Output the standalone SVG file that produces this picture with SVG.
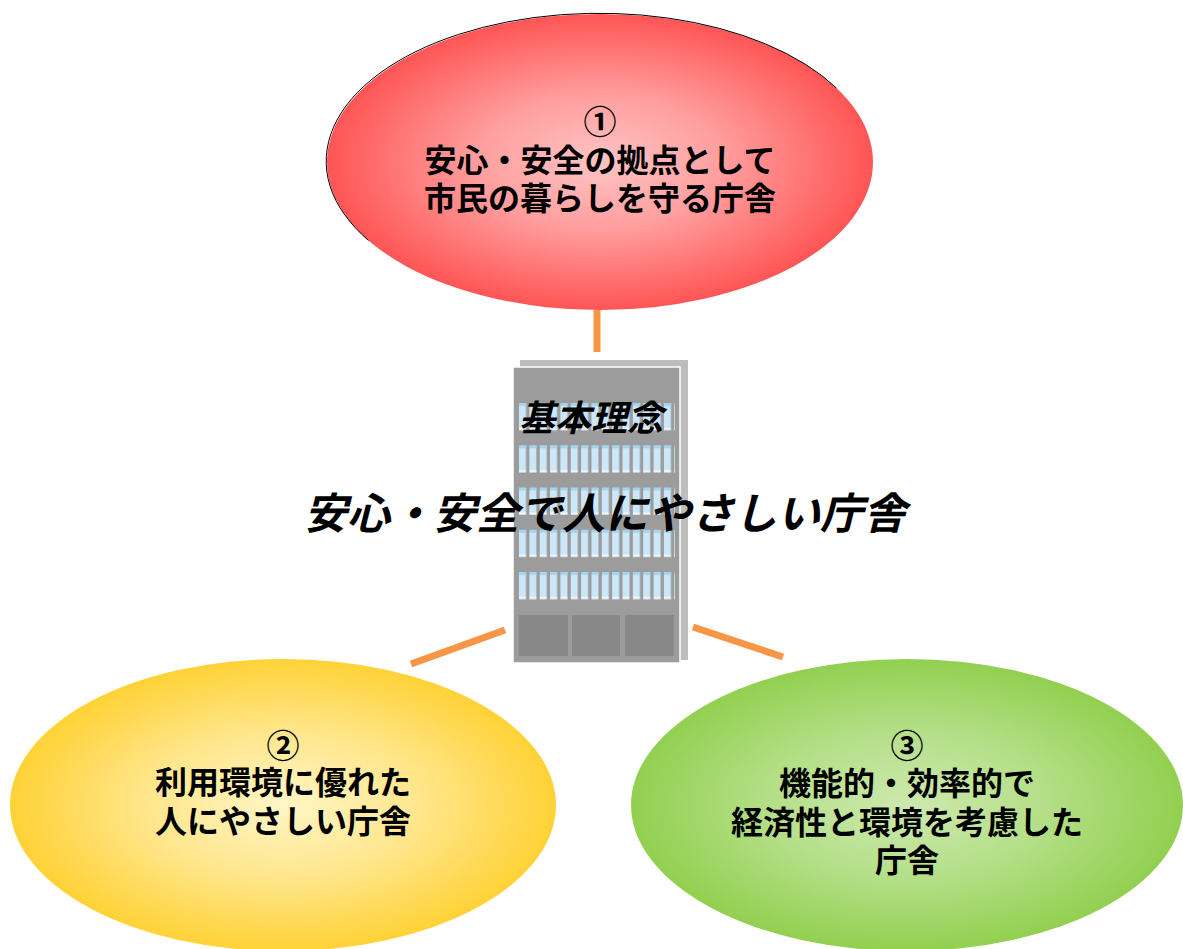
<svg xmlns="http://www.w3.org/2000/svg" width="1183" height="949" viewBox="0 0 1183 949">
  <style>
    .lbl { font-family: "Noto Sans CJK JP", "Noto Sans", sans-serif; font-weight: 700; font-size: 32px; fill: #000; text-anchor: middle; }
    .num { font-size: 33px; }
    .con { stroke: #F79646; stroke-width: 7; fill: none; }
    .head { font-family: "Noto Sans CJK JP", "Noto Sans", sans-serif; font-style: italic; fill: #000; }
  </style>
  <defs>
    <radialGradient id="gRed" cx="0.5" cy="0.5" r="0.5">
      <stop offset="0" stop-color="#FFC4C4"/>
      <stop offset="0.45" stop-color="#FF9E9E"/>
      <stop offset="1" stop-color="#FF5555"/>
    </radialGradient>
    <radialGradient id="gYel" cx="0.5" cy="0.5" r="0.5">
      <stop offset="0" stop-color="#FFF6C6"/>
      <stop offset="0.5" stop-color="#FFE68C"/>
      <stop offset="1" stop-color="#FFD236"/>
    </radialGradient>
    <radialGradient id="gGrn" cx="0.5" cy="0.5" r="0.5">
      <stop offset="0" stop-color="#CDE9AE"/>
      <stop offset="0.5" stop-color="#B4DF88"/>
      <stop offset="1" stop-color="#92D050"/>
    </radialGradient>
    <!-- one window strip per cell, repeated across each floor -->
    <pattern id="win" patternUnits="userSpaceOnUse" x="519" y="403" width="10.35" height="42.25">
      <rect x="0" y="0" width="7" height="27" fill="#CBE7F8"/>
      <rect x="0" y="0" width="7" height="3" fill="#A6D3EE"/>
      <rect x="0" y="25" width="7" height="2" fill="#F4FAFF"/>
    </pattern>
  </defs>

  <g id="connectors">
    <line class="con" x1="597" y1="310" x2="597" y2="352"/>
    <line class="con" x1="411" y1="664" x2="505" y2="630"/>
    <line class="con" x1="693" y1="627" x2="783" y2="657"/>
  </g>

  <g id="node1">
    <ellipse cx="600" cy="162" rx="273" ry="148" fill="url(#gRed)"/>
    <path d="M368.5,240.4 A273,148 0 1 1 836.4,88" fill="none" stroke="#000" stroke-width="1"/>
    <text class="lbl num" x="600" y="134">①</text>
    <text class="lbl" x="600" y="172">安心・安全の拠点として</text>
    <text class="lbl" x="600" y="210">市民の暮らしを守る庁舎</text>
  </g>

  <g id="node2">
    <ellipse cx="283" cy="805" rx="273" ry="146" fill="url(#gYel)"/>
    <text class="lbl num" x="283" y="758">②</text>
    <text class="lbl" x="283" y="794">利用環境に優れた</text>
    <text class="lbl" x="283" y="833">人にやさしい庁舎</text>
  </g>

  <g id="node3">
    <ellipse cx="907" cy="805" rx="276" ry="146" fill="url(#gGrn)"/>
    <text class="lbl num" x="907" y="758">③</text>
    <text class="lbl" x="907" y="795">機能的・効率的で</text>
    <text class="lbl" x="907" y="834">経済性と環境を考慮した</text>
    <text class="lbl" x="907" y="872">庁舎</text>
  </g>

  <g id="building">
    <rect x="520" y="360" width="168" height="300" fill="#BDBDBD"/>
    <rect x="513" y="367" width="167" height="296" fill="#9C9C9C" stroke="#FFFFFF" stroke-width="1.5"/>
    <rect x="519" y="403" width="156" height="197" fill="url(#win)"/>
    <rect x="519" y="615" width="49" height="41" fill="#888888"/>
    <rect x="572" y="615" width="48" height="41" fill="#888888"/>
    <rect x="625" y="615" width="49" height="41" fill="#888888"/>
  </g>

  <g id="concept">
    <text class="head" x="591" y="431" font-size="36" font-weight="700" text-anchor="middle">基本理念</text>
    <text class="head" x="605" y="529" font-size="43" font-weight="600" text-anchor="middle">安心・安全で人にやさしい庁舎</text>
  </g>
</svg>
